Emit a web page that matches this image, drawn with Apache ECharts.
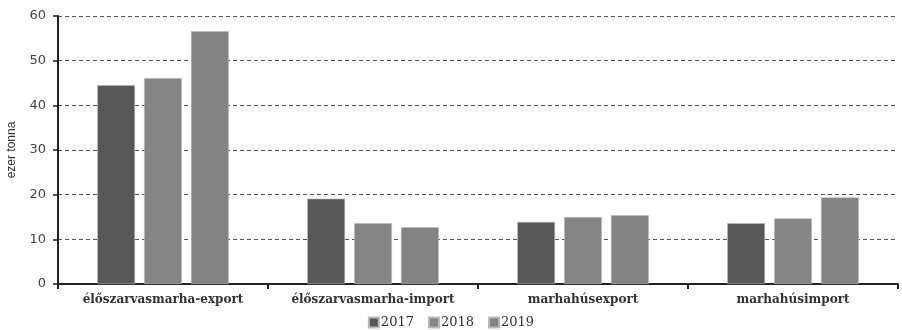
<!DOCTYPE html>
<html><head><meta charset="utf-8">
<script src="https://cdn.jsdelivr.net/npm/echarts@6/dist/echarts.min.js"></script>
<style>html,body{margin:0;padding:0;background:#fff}#c{width:902px;height:330px}</style>
</head><body><div id="c"></div>
<script>
const categories = ['élőszarvasmarha-export', 'élőszarvasmarha-import', 'marhahúsexport', 'marhahúsimport'];
const years = ['2017', '2018', '2019'];
const v2017 = [44.5, 19.1, 13.9, 13.6];
const v2018 = [46.1, 13.6, 15.0, 14.7];
const v2019 = [56.6, 12.7, 15.4, 19.4];
const colors = ['#575757', '#858585', '#838383'];
const yTicks = [0, 10, 20, 30, 40, 50, 60];

const chart = echarts.init(document.getElementById('c'));
const mk = (name, data, i) => ({
  name, type: 'bar', data, barWidth: '18%', barGap: '24%',
  itemStyle: { color: colors[i], borderColor: '#b8b8b8', borderWidth: 0.6 }
});
chart.setOption({
  animation: false,
  grid: { left: 58, right: 4, top: 16, bottom: 46, containLabel: false, outerBoundsMode: 'none' },
  legend: {
    data: years, bottom: -4, left: 'center', itemWidth: 10, itemHeight: 10, itemGap: 14,
    icon: 'rect', padding: [5, 5, 5, 5],
    textStyle: { fontFamily: 'DejaVu Serif', fontSize: 13, color: '#333', padding: [0, 0, 0, -3] }
  },
  xAxis: {
    type: 'category', data: categories,
    axisLine: { lineStyle: { color: '#222', width: 2 } },
    axisTick: { show: true, length: 5, lineStyle: { color: '#222', width: 2 } },
    axisLabel: { interval: 0, fontFamily: 'DejaVu Serif', fontWeight: 'bold', fontSize: 12, color: '#333', margin: 10 }
  },
  yAxis: {
    type: 'value', min: yTicks[0], max: yTicks[yTicks.length - 1], interval: 10,
    name: 'ezer tonna', nameLocation: 'middle', nameGap: 40, nameRotate: 90,
    nameTextStyle: { fontFamily: 'Liberation Sans Narrow, Liberation Sans', fontSize: 12, color: '#333' },
    axisLine: { show: true, lineStyle: { color: '#222', width: 2 } },
    axisTick: { show: true, length: 5, lineStyle: { color: '#222', width: 1.5 } },
    axisLabel: { fontFamily: 'DejaVu Sans', fontSize: 13, color: '#444', margin: 12 },
    splitLine: { lineStyle: { color: '#555', type: [4, 3], width: 1 } }
  },
  series: [mk(years[0], v2017, 0), mk(years[1], v2018, 1), mk(years[2], v2019, 2)]
});
</script></body></html>
